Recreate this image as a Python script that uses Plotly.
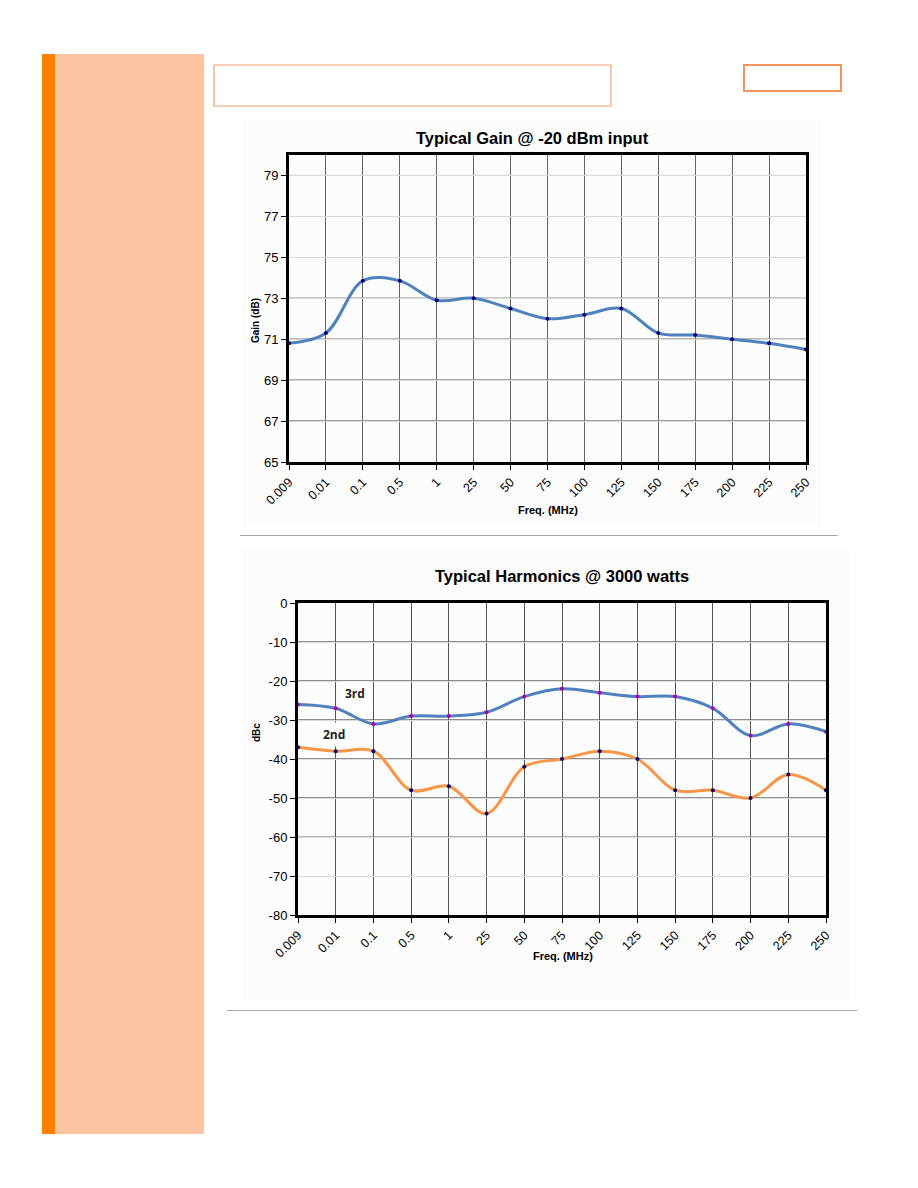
import plotly.graph_objects as go

# ---------------- data ----------------
freq_labels = ["0.009", "0.01", "0.1", "0.5", "1", "25", "50", "75", "100",
               "125", "150", "175", "200", "225", "250"]
gain_db = [70.8, 71.3, 73.85, 73.85, 72.9, 73.0, 72.5, 72.0, 72.2, 72.5,
           71.3, 71.2, 71.0, 70.8, 70.5]
harm_3rd = [-26, -27, -31, -29, -29, -28, -24, -22, -23, -24, -24, -27, -34, -31, -33]
harm_2nd = [-37, -38, -38, -48, -47, -54, -42, -40, -38, -40, -48, -48, -50, -44, -48]
gain_ticks = [65, 67, 69, 71, 73, 75, 77, 79]
harm_ticks = [0, -10, -20, -30, -40, -50, -60, -70, -80]

W, H = 918, 1188
FONT = "Arial, Liberation Sans, sans-serif"


def px(x):
    return x / W


def py(y):
    return 1 - y / H


fig = go.Figure()

# Gain trace
fig.add_trace(go.Scatter(
    x=freq_labels, y=gain_db, mode="lines+markers",
    line=dict(color="#4f81bd", width=3, shape="spline", smoothing=1.0),
    marker=dict(color="#00007a", size=4),
    xaxis="x", yaxis="y", showlegend=False, cliponaxis=False))

# Harmonics traces
fig.add_trace(go.Scatter(
    x=freq_labels, y=harm_3rd, mode="lines+markers",
    line=dict(color="#4f81bd", width=3, shape="spline", smoothing=1.0),
    marker=dict(color="#b000b0", size=4),
    xaxis="x2", yaxis="y2", showlegend=False, cliponaxis=False))
fig.add_trace(go.Scatter(
    x=freq_labels, y=harm_2nd, mode="lines+markers",
    line=dict(color="#f79646", width=3, shape="spline", smoothing=1.0),
    marker=dict(color="#00007a", size=4),
    xaxis="x2", yaxis="y2", showlegend=False, cliponaxis=False))

axis_common = dict(
    showline=True, mirror=True, linecolor="black", linewidth=3,
    ticks="outside", ticklen=5, tickcolor="black",
    zeroline=False, automargin=False,
)

fig.update_layout(
    width=W, height=H,
    margin=dict(l=0, r=0, t=0, b=0, pad=0),
    paper_bgcolor="white",
    plot_bgcolor="rgba(0,0,0,0)",
    font=dict(family=FONT, color="black"),
    xaxis=dict(
        domain=[px(289), px(806)], anchor="y", type="category",
        range=[0, 14], tickmode="array", tickvals=freq_labels, ticktext=freq_labels,
        tickangle=-45, tickfont=dict(size=12.5, family=FONT),
        showgrid=True, gridcolor="#666666", gridwidth=1, **axis_common),
    yaxis=dict(
        domain=[py(462), py(155)], anchor="x", range=[65, 80],
        tickmode="array", tickvals=gain_ticks, ticktext=[str(v) for v in gain_ticks],
        tickfont=dict(size=13, family=FONT),
        showgrid=True, gridcolor="#d8d8d8", gridwidth=1, **axis_common),
    xaxis2=dict(
        domain=[px(298), px(826)], anchor="y2", type="category",
        range=[0, 14], tickmode="array", tickvals=freq_labels, ticktext=freq_labels,
        tickangle=-45, tickfont=dict(size=12.5, family=FONT),
        showgrid=True, gridcolor="#555555", gridwidth=1, **axis_common),
    yaxis2=dict(
        domain=[py(915), py(603)], anchor="x2", range=[-80, 0],
        tickmode="array", tickvals=harm_ticks, ticktext=[str(v) for v in harm_ticks],
        tickfont=dict(size=13, family=FONT),
        showgrid=True, gridcolor="#dddddd", gridwidth=1, **axis_common),
)

shapes = []
# page decorations
shapes.append(dict(type="rect", xref="paper", yref="paper", x0=px(42), x1=px(55),
                   y0=py(1134), y1=py(54), fillcolor="#ff7f00", line=dict(width=0), layer="below"))
shapes.append(dict(type="rect", xref="paper", yref="paper", x0=px(55), x1=px(204),
                   y0=py(1134), y1=py(54), fillcolor="#fdc4a1", line=dict(width=0), layer="below"))
shapes.append(dict(type="rect", xref="paper", yref="paper", x0=px(214), x1=px(611),
                   y0=py(106), y1=py(65), fillcolor="white", line=dict(color="#f0a070", width=1.2), layer="below"))
shapes.append(dict(type="rect", xref="paper", yref="paper", x0=px(744), x1=px(841),
                   y0=py(91), y1=py(65), fillcolor="white", line=dict(color="#f0955a", width=2), layer="below"))
# faint chart backgrounds
shapes.append(dict(type="rect", xref="paper", yref="paper", x0=px(242), x1=px(822),
                   y0=py(527), y1=py(120), fillcolor="#fcfcfc", line=dict(width=0), layer="below"))
shapes.append(dict(type="rect", xref="paper", yref="paper", x0=px(242), x1=px(850),
                   y0=py(1000), y1=py(550), fillcolor="#fcfcfc", line=dict(width=0), layer="below"))
# separators
shapes.append(dict(type="line", xref="paper", yref="paper", x0=px(240), x1=px(838),
                   y0=py(535.5), y1=py(535.5), line=dict(color="#a8a8a8", width=1.2)))
shapes.append(dict(type="line", xref="paper", yref="paper", x0=px(227), x1=px(857),
                   y0=py(1010.5), y1=py(1010.5), line=dict(color="#a8a8a8", width=1.2)))

# darker horizontal gridlines
for v in [67, 69, 71, 73, 79]:
    shapes.append(dict(type="line", xref="x domain", yref="y", x0=0, x1=1, y0=v, y1=v,
                       line=dict(color="#222222", width=1), layer="below"))
for v, c in [(-10, "#222222"), (-20, "#222222"), (-30, "#222222"), (-40, "#222222"),
             (-50, "#222222"), (-60, "#6a6a6a")]:
    shapes.append(dict(type="line", xref="x2 domain", yref="y2", x0=0, x1=1, y0=v, y1=v,
                       line=dict(color=c, width=1), layer="below"))
fig.update_layout(shapes=shapes)

LBL = "Open Sans, Liberation Sans, sans-serif"
annotations = [
    dict(text="<b>Typical Gain @ -20 dBm input</b>", x=px(532), y=py(138),
         font=dict(size=16.5, family=FONT)),
    dict(text="<b>Typical Harmonics @ 3000 watts</b>", x=px(562), y=py(576),
         font=dict(size=16.5, family=FONT)),
    dict(text="<b>Freq. (MHz)</b>", x=px(548), y=py(510), font=dict(size=11, family=FONT)),
    dict(text="<b>Freq. (MHz)</b>", x=px(563), y=py(956), font=dict(size=11, family=FONT)),
    dict(text="<b>Gain (dB)</b>", textangle=-90, x=px(255), y=py(321),
         font=dict(size=10, family=FONT)),
    dict(text="<b>dBc</b>", textangle=-90, x=px(256), y=py(733),
         font=dict(size=10, family=FONT)),
]
for a in annotations:
    a.update(xref="paper", yref="paper", xanchor="center", yanchor="middle", showarrow=False)
annotations += [
    dict(text="<b>3rd</b>", xref="x2", yref="y2", x=1.5, y=-23.3, showarrow=False,
         xanchor="center", yanchor="middle",
         bgcolor="white", borderpad=3, font=dict(size=12, family=LBL, color="#222222")),
    dict(text="<b>2nd</b>", xref="x2", yref="y2", x=0.95, y=-33.8, showarrow=False,
         xanchor="center", yanchor="middle",
         bgcolor="white", borderpad=3, font=dict(size=12, family=LBL, color="#222222")),
]
fig.update_layout(annotations=annotations)

fig.write_html("out.html")
